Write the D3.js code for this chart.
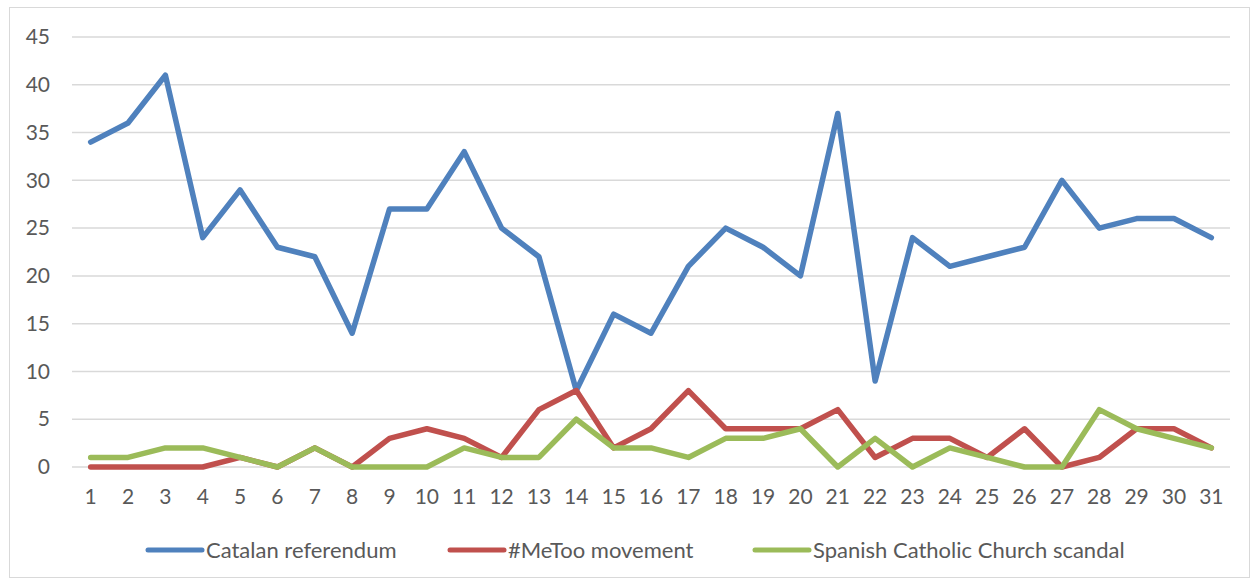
<!DOCTYPE html>
<html>
<head>
<meta charset="UTF-8">
<script src="https://d3js.org/d3.v7.min.js"></script>
<style>
  body { margin: 0; background: #fff; }
  text { font-family: Lato, "Open Sans", sans-serif; fill: #595959; }
</style>
</head>
<body>
<svg width="1257" height="583"></svg>
<script>
// days of the month
var days = d3.range(1, 32);

var catalan = [34, 36, 41, 24, 29, 23, 22, 14, 27, 27, 33, 25, 22, 8, 16, 14, 21, 25, 23, 20, 37, 9, 24, 21, 22, 23, 30, 25, 26, 26, 24];
var metoo   = [0, 0, 0, 0, 1, 0, 2, 0, 3, 4, 3, 1, 6, 8, 2, 4, 8, 4, 4, 4, 6, 1, 3, 3, 1, 4, 0, 1, 4, 4, 2];
var church  = [1, 1, 2, 2, 1, 0, 2, 0, 0, 0, 2, 1, 1, 5, 2, 2, 1, 3, 3, 4, 0, 3, 0, 2, 1, 0, 0, 6, 4, 3, 2];

var yTicks = [0, 5, 10, 15, 20, 25, 30, 35, 40, 45];

var seriesNames = ["Catalan referendum", "#MeToo movement", "Spanish Catholic Church scandal"];
var colors = ["#4F81BD", "#C0504D", "#9BBB59"];

var svg = d3.select("svg");

// chart frame
svg.append("rect")
    .attr("x", 9.5).attr("y", 7.5)
    .attr("width", 1240).attr("height", 570)
    .attr("fill", "none")
    .attr("stroke", "#d9d9d9");

var x = d3.scaleBand().domain(days).range([72, 1230]);
var y = d3.scaleLinear().domain([0, 45]).range([467, 37]);

// gridlines
svg.append("g").selectAll("line")
    .data(yTicks)
    .enter().append("line")
    .attr("x1", 72).attr("x2", 1230)
    .attr("y1", function(d) { return y(d); })
    .attr("y2", function(d) { return y(d); })
    .attr("stroke", "#d9d9d9")
    .attr("stroke-width", 1.5);

// y axis labels
var yAxis = svg.append("g")
    .attr("transform", "translate(72,0)")
    .call(d3.axisLeft(y).tickValues(yTicks).tickSize(0).tickPadding(22));
yAxis.select(".domain").remove();
yAxis.selectAll("text")
    .attr("font-size", "21px")
    .style("font-family", "Lato, 'Open Sans', sans-serif")
    .attr("fill", "#595959");

// x axis labels
var xAxis = svg.append("g")
    .attr("transform", "translate(0,467)")
    .call(d3.axisBottom(x).tickSize(0).tickPadding(22));
xAxis.select(".domain").remove();
xAxis.selectAll("text")
    .attr("font-size", "21px")
    .style("font-family", "Lato, 'Open Sans', sans-serif")
    .attr("fill", "#595959");

var line = d3.line()
    .x(function(d, i) { return x(days[i]) + x.bandwidth() / 2; })
    .y(function(d) { return y(d); });

[catalan, metoo, church].forEach(function(s, k) {
    svg.append("path")
        .datum(s)
        .attr("d", line)
        .attr("fill", "none")
        .attr("stroke", colors[k])
        .attr("stroke-width", 5.5)
        .attr("stroke-linejoin", "round")
        .attr("stroke-linecap", "round");
});

// legend
var legendX = [148, 450, 755];
var legend = svg.append("g");
seriesNames.forEach(function(name, k) {
    legend.append("line")
        .attr("x1", legendX[k]).attr("x2", legendX[k] + 54)
        .attr("y1", 550).attr("y2", 550)
        .attr("stroke", colors[k])
        .attr("stroke-width", 5)
        .attr("stroke-linecap", "round");
    legend.append("text")
        .attr("x", legendX[k] + 58)
        .attr("y", 558)
        .attr("font-size", "22px")
        .text(name);
});
</script>
</body>
</html>
